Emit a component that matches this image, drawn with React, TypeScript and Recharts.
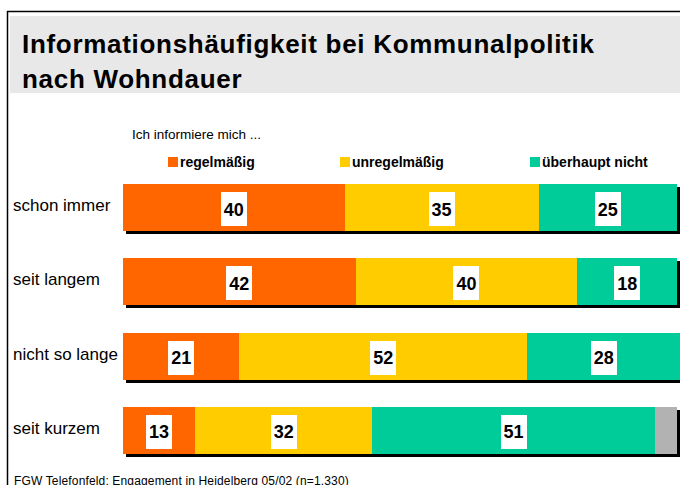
import React from "react";
import { BarChart, Bar, XAxis, YAxis, LabelList } from "recharts";

const CATEGORIES = ["schon immer", "seit langem", "nicht so lange", "seit kurzem"];
const REGELMAESSIG = [40, 42, 21, 13];
const UNREGELMAESSIG = [35, 40, 52, 32];
const UEBERHAUPT_NICHT = [25, 18, 28, 51];
const REST = [0, 0, 0, 4];

const SERIES = [
  { key: "regelmaessig", name: "regelmäßig", color: "#ff6600", values: REGELMAESSIG },
  { key: "unregelmaessig", name: "unregelmäßig", color: "#ffcc00", values: UNREGELMAESSIG },
  { key: "nicht", name: "überhaupt nicht", color: "#00cc99", values: UEBERHAUPT_NICHT },
];

const FONT = "Arial, 'Liberation Sans', Helvetica, sans-serif";

const data = CATEGORIES.map((cat, i) => ({
  cat,
  regelmaessig: REGELMAESSIG[i],
  unregelmaessig: UNREGELMAESSIG[i],
  nicht: UEBERHAUPT_NICHT[i],
  rest: REST[i],
}));

// each segment gets its own black drop shadow, next segment covers the overlap
function ShadowBar(props: any) {
  const { x, y, width, height, fill } = props;
  if (!width || width <= 0) return null;
  const x0 = Math.round(x);
  const x1 = Math.round(x + width);
  const y0 = Math.round(y);
  const h = Math.round(height);
  return (
    <g shapeRendering="crispEdges">
      <rect x={x0 + 3} y={y0 + 3} width={x1 - x0} height={h} fill="#000" />
      <rect x={x0} y={y0} width={x1 - x0} height={h} fill={fill} />
    </g>
  );
}

function ValueBox(props: any) {
  const { x, y, width, height, value } = props;
  if (!value) return null;
  const cx = x + width / 2;
  const cy = y + height / 2;
  return (
    <g>
      <rect x={Math.round(cx - 13)} y={Math.round(cy - 15.5)} width={26} height={34} fill="#fff" />
      <text x={cx} y={cy + 8} textAnchor="middle" fontFamily={FONT} fontWeight="bold" fontSize={18} fill="#000">
        {value}
      </text>
    </g>
  );
}

function CatTick(props: any) {
  const { y, payload } = props;
  return (
    <text x={13} y={y + 4} fontFamily={FONT} fontSize={17} fill="#000">
      {payload.value}
    </text>
  );
}

const LEGEND_X = [168, 340, 530];

function Decor() {
  return (
    <svg width={680} height={485} style={{ position: "absolute", left: 0, top: 0 }}>
      <line x1={7.5} y1={11} x2={7.5} y2={485} stroke="#000" strokeWidth={1.5} />
      <line x1={7} y1={11.5} x2={680} y2={11.5} stroke="#000" strokeWidth={1.5} />
      <rect x={10} y={16} width={670} height={77} fill="#e8e8e8" />
      <text fontFamily={FONT} fontWeight="bold" fontSize={26} letterSpacing={0.7} fill="#000">
        <tspan x={22} y={53}>Informationshäufigkeit bei Kommunalpolitik</tspan>
        <tspan x={22} y={88}>nach Wohndauer</tspan>
      </text>
      <text x={132} y={139} fontFamily={FONT} fontSize={13.5} fill="#000">
        Ich informiere mich ...
      </text>
      {SERIES.map((s, i) => (
        <g key={s.key}>
          <rect x={LEGEND_X[i]} y={157} width={10} height={10} fill={s.color} />
          <text x={LEGEND_X[i] + 12} y={167} fontFamily={FONT} fontWeight="bold" fontSize={14} fill="#000">
            {s.name}
          </text>
        </g>
      ))}
      <text x={14} y={485} fontFamily={FONT} fontSize={12} letterSpacing={0.15} fill="#000">
        FGW Telefonfeld: Engagement in Heidelberg 05/02 (n=1.330)
      </text>
    </svg>
  );
}

export default function App() {
  return (
    <div
      style={{
        position: "absolute",
        left: 0,
        top: 0,
        width: 680,
        height: 485,
        background: "#fff",
        overflow: "hidden",
        fontFamily: FONT,
      }}
    >
      <Decor />
      <div style={{ position: "absolute", left: 0, top: 0 }}>
        <BarChart
          width={680}
          height={485}
          data={data}
          layout="vertical"
          margin={{ top: 170, right: 0, bottom: 18, left: 0 }}
          barSize={47}
        >
          <XAxis type="number" domain={[0, 100.54]} allowDataOverflow hide />
          <YAxis
            type="category"
            dataKey="cat"
            width={123}
            axisLine={false}
            tickLine={false}
            tick={<CatTick />}
          />
          {SERIES.map((s) => (
            <Bar key={s.key} dataKey={s.key} name={s.name} stackId="a" fill={s.color} shape={<ShadowBar />} isAnimationActive={false}>
              <LabelList dataKey={s.key} content={<ValueBox />} />
            </Bar>
          ))}
          <Bar dataKey="rest" stackId="a" fill="#b2b2b2" shape={<ShadowBar />} isAnimationActive={false} />
        </BarChart>
      </div>
    </div>
  );
}
